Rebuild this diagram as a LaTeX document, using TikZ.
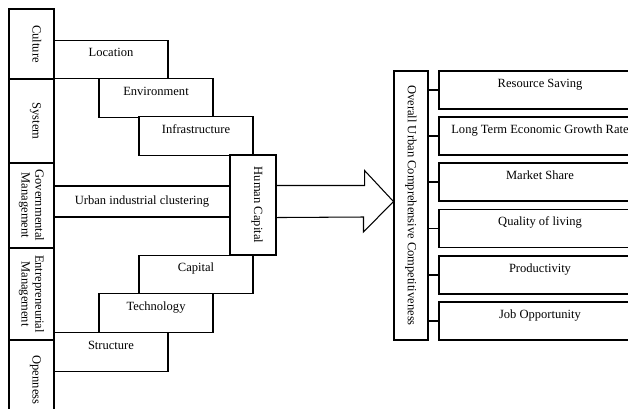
\documentclass[tikz,border=0pt]{standalone}
\usepackage{fontspec}
\setmainfont{Liberation Serif}
\tikzset{
	blk/.style={draw,fill=white,line width=0.9pt,inner sep=0pt,align=center,font=\fontsize{10.7}{11.6}\selectfont},
	raised/.style={text height=7pt,text depth=11.4pt},
	lifted/.style={text height=7pt,text depth=9pt},
	vert/.style={rotate=-90},
	stair/.style={blk,raised,minimum width=3.42cm,minimum height=1.16cm},
	goal/.style={blk,raised,minimum width=6.06cm,minimum height=1.14cm}
}
\begin{document}
\begin{tikzpicture}[x=0.03cm,y=-0.03cm]
		\clip (0,0) rectangle (628,408);
		
		% left column
		\node[blk,vert,lifted,minimum width=2.1cm,minimum height=1.35cm] (cul) at (31.5,44) {Culture};
		\node[blk,vert,lifted,minimum width=2.52cm,minimum height=1.35cm] (sys) at (31.5,121) {System};
		\node[blk,vert,minimum width=2.55cm,minimum height=1.35cm] (gov) at (31.5,205.5) {Governmental\\Management};
		\node[blk,vert,minimum width=2.76cm,minimum height=1.35cm] (ent) at (31.5,294) {Entrepreneurial\\Management};
		\node[blk,vert,lifted,minimum width=2.4cm,minimum height=1.35cm] (ope) at (31.5,380) {Openness};
		
		% stairs
		\node[stair] (loc) at (111,59.5) {Location};
		\node[stair] (env) at (156,98) {Environment};
		\node[stair] (inf) at (196,136) {Infrastructure};
		\node[blk,minimum width=5.28cm,minimum height=0.93cm] (uic) at (142,201.5) {Urban industrial clustering};
		\node[blk,vert,lifted,minimum width=3.0cm,minimum height=1.38cm] (hc) at (253,205) {Human Capital};
		\node[stair] (cap) at (196,274.5) {Capital};
		\node[stair] (tech) at (156,313) {Technology};
		\node[stair] (str) at (111,352) {Structure};
		
		% result (rotated nodes: north is on the right, south on the left)
		\node[blk,vert,minimum width=8.07cm,minimum height=1.02cm] (oucc) at (411,205.5) {Overall Urban Comprehensive Competitiveness};
		\coordinate (tip) at (oucc.south |- uic.east);
		\draw[line width=0.9pt] (hc.north |- uic.north) -- ++(88,0) -- ++(0,-15) -- (tip) -- ++(-30,30.5) -- ++(0,-15) -- (hc.north |- uic.south);
		
		\node[goal] (rs) at (540,90) {Resource Saving};
		\node[goal] (lt) at (540,136) {Long Term Economic Growth Rate};
		\node[goal] (ms) at (540,182) {Market Share};
		\node[goal] (ql) at (540,228.5) {Quality of living};
		\node[goal] (pr) at (540,275) {Productivity};
		\node[goal] (jo) at (540,321) {Job Opportunity};
		
		\draw[line width=0.9pt] (oucc.north |- rs.west) -- (rs.west);
		\draw[line width=0.9pt] (oucc.north |- lt.west) -- (lt.west);
		\draw[line width=0.9pt] (oucc.north |- ms.west) -- (ms.west);
		\draw[line width=0.9pt] (oucc.north |- ql.west) -- (ql.west);
		\draw[line width=0.9pt] (oucc.north |- pr.west) -- (pr.west);
		\draw[line width=0.9pt] (oucc.north |- jo.west) -- (jo.west);
\end{tikzpicture}
\end{document}
